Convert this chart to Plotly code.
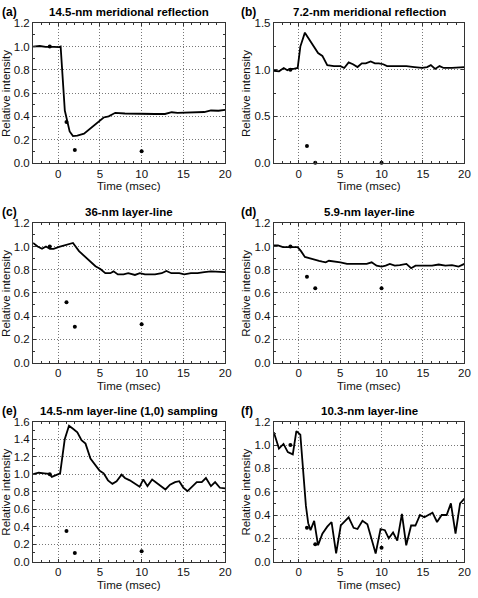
import plotly.graph_objects as go

W, H = 478, 598

# ---------------- data ----------------
titles = ["14.5-nm meridional reflection", "7.2-nm meridional reflection",
          "36-nm layer-line", "5.9-nm layer-line",
          "14.5-nm layer-line (1,0) sampling", "10.3-nm layer-line"]
labels = ["(a)", "(b)", "(c)", "(d)", "(e)", "(f)"]

a_t = [-3, -2.2, -1.5, -1.07, -0.5, 0.12, 0.3, 0.8, 1.1, 1.38, 1.78, 2.3, 3.1, 4.1, 5.45, 6.05, 6.84,
       8.0, 9.0, 10.0, 11.0, 11.6, 12.8, 13.6, 14.3, 15.1, 16.0, 16.7, 17.5, 18.3, 19.2, 20]
a_y = [1.0, 1.005, 0.998, 1.0, 0.997, 0.995, 1.0, 0.45, 0.35, 0.27, 0.23, 0.233, 0.25, 0.31, 0.39, 0.40, 0.43,
       0.424, 0.422, 0.42, 0.417, 0.42, 0.42, 0.435, 0.43, 0.433, 0.435, 0.44, 0.437, 0.45, 0.448, 0.455]

b_t = [-3, -2.37, -1.8, -1.37, -1.1, -0.6, -0.12, 0.2, 0.75, 1.27, 1.79, 2.34, 2.86, 3.45, 4.25, 5.04, 5.5,
       6.03, 6.55, 7.1, 7.62, 8.1, 8.69, 9.2, 9.68, 10.2, 10.67, 11.8, 13.0, 13.97, 14.9, 15.5, 15.95,
       16.47, 17.0, 17.5, 18.5, 20]
b_y = [0.99, 0.984, 1.02, 0.995, 1.01, 1.01, 1.02, 1.25, 1.40, 1.33, 1.26, 1.18, 1.15, 1.05, 1.04, 1.04, 1.02,
       1.08, 1.06, 1.03, 1.07, 1.07, 1.09, 1.07, 1.07, 1.06, 1.04, 1.04, 1.04, 1.03, 1.02, 1.03, 1.05,
       1.01, 1.04, 1.02, 1.02, 1.03]

c_t = [-3, -2.45, -1.93, -1.46, -0.98, -0.55, 0.12, 0.91, 1.78, 2.5, 3.1, 3.87, 4.47, 5.06, 5.65, 6.25, 6.64,
       7.15, 7.83, 8.4, 9.2, 9.78, 10.4, 11.6, 12.4, 12.96, 13.56, 14.5, 15.1, 15.9, 16.7, 17.5, 18.3, 20]
c_y = [1.03, 1.0, 0.98, 1.0, 0.98, 0.98, 0.997, 1.01, 1.03, 0.96, 0.92, 0.87, 0.83, 0.806, 0.77, 0.77, 0.786,
       0.76, 0.76, 0.77, 0.755, 0.77, 0.76, 0.76, 0.77, 0.79, 0.77, 0.77, 0.76, 0.77, 0.77, 0.78, 0.786, 0.78]

d_t = [-3, -2.5, -1.9, -1.3, -0.71, -0.12, 0.28, 0.75, 1.27, 1.87, 2.46, 2.86, 3.26, 3.65, 4.25, 5.04, 5.83,
       6.63, 7.42, 8.21, 8.81, 9.4, 10.0, 10.5, 11.0, 11.6, 12.2, 13.0, 13.57, 14.1, 14.9, 16.1, 16.9,
       17.7, 18.5, 19.3, 20]
d_y = [1.01, 1.01, 0.995, 0.995, 1.0, 0.995, 0.96, 0.91, 0.90, 0.886, 0.877, 0.87, 0.864, 0.877, 0.872, 0.864, 0.85,
       0.85, 0.845, 0.85, 0.864, 0.835, 0.827, 0.835, 0.85, 0.835, 0.84, 0.85, 0.813, 0.835, 0.835, 0.835, 0.845,
       0.835, 0.84, 0.827, 0.85]

e_t = [-3, -2.33, -1.66, -1.07, -0.75, -0.28, 0.24, 0.79, 1.3, 1.78, 2.3, 2.8, 3.28, 3.87, 4.47, 4.98, 5.45,
       5.97, 6.5, 7.0, 7.6, 8.0, 8.58, 9.17, 9.76, 10.2, 10.7, 11.26, 11.85, 12.33, 12.85, 13.4, 14.0,
       14.5, 15.0, 15.5, 16.1, 16.6, 17.2, 17.7, 18.3, 18.8, 19.37, 20]
e_y = [1.0, 1.017, 1.01, 1.005, 0.97, 0.987, 1.01, 1.40, 1.555, 1.52, 1.48, 1.39, 1.35, 1.18, 1.10, 1.04, 1.01,
       0.93, 0.89, 0.92, 0.995, 0.957, 0.93, 0.89, 0.856, 0.94, 0.864, 0.94, 0.90, 0.864, 0.826, 0.88, 0.91,
       0.92, 0.845, 0.807, 0.864, 0.91, 0.91, 0.957, 0.864, 0.91, 0.845, 0.837]

f_t = [-3, -2.38, -1.83, -1.31, -0.71, -0.28, 0.2, 0.87, 1.15, 1.43, 1.87, 2.34, 2.86, 3.45, 3.97, 4.52, 5.08,
       6.03, 6.63, 7.1, 7.7, 8.29, 9.29, 9.88, 10.4, 10.87, 11.39, 11.9, 12.46, 12.98, 13.57, 14.09, 14.64,
       15.16, 16.15, 16.7, 17.26, 17.86, 18.37, 18.93, 19.48, 20]
f_y = [1.11, 0.97, 1.01, 0.94, 0.92, 1.12, 1.09, 0.48, 0.33, 0.27, 0.35, 0.14, 0.24, 0.30, 0.34, 0.07, 0.31,
       0.38, 0.29, 0.28, 0.35, 0.32, 0.07, 0.28, 0.27, 0.20, 0.25, 0.18, 0.41, 0.14, 0.31, 0.31, 0.40,
       0.38, 0.42, 0.34, 0.40, 0.40, 0.50, 0.24, 0.50, 0.54]

dot_t = [-1, 1, 2, 10]
a_dots = [1.0, 0.35, 0.11, 0.10]
b_dots = [1.0, 0.18, 0.0, 0.0]
c_dots = [1.0, 0.52, 0.31, 0.33]
d_dots = [1.0, 0.74, 0.64, 0.64]
e_dots = [1.0, 0.35, 0.10, 0.12]
f_dots = [1.0, 0.29, 0.15, 0.12]

x_range = [-3, 20]
x_ticks = [0, 5, 10, 15, 20]
y_ranges = [[0, 1.2], [0, 1.5], [0, 1.2], [0, 1.2], [0, 1.6], [0, 1.2]]
y_dticks = [0.2, 0.5, 0.2, 0.2, 0.2, 0.2]

lines_t = [a_t, b_t, c_t, d_t, e_t, f_t]
lines_y = [a_y, b_y, c_y, d_y, e_y, f_y]
dots_y = [a_dots, b_dots, c_dots, d_dots, e_dots, f_dots]

# ---------------- layout (pixels) ----------------
col_x = [(33.5, 228.0), (277.3, 470.3)]
row_y = [(17.7, 160.0), (221.7, 364.0), (424.3, 567.0)]

FONT = "Arial, Liberation Sans, Helvetica, sans-serif"

fig = go.Figure()
annotations = []
for i in range(6):
    r, c = divmod(i, 2)
    n = i + 1
    xa = "x" if n == 1 else f"x{n}"
    ya = "y" if n == 1 else f"y{n}"
    x0, x1 = col_x[c]
    y0, y1 = row_y[r]
    fig.add_trace(go.Scatter(x=lines_t[i], y=lines_y[i], mode="lines",
                             line=dict(color="black", width=1.8),
                             xaxis=xa, yaxis=ya, showlegend=False, hoverinfo="skip"))
    fig.add_trace(go.Scatter(x=dot_t, y=dots_y[i], mode="markers",
                             marker=dict(color="black", size=4),
                             xaxis=xa, yaxis=ya, showlegend=False, cliponaxis=False))
    axcommon = dict(showline=True, linecolor="#333", linewidth=1, mirror="ticks",
                    ticks="inside", ticklen=3, tickcolor="#333", tickwidth=1,
                    showgrid=True, gridcolor="#777", griddash="1px,2px", gridwidth=1,
                    zeroline=False, ticklabeloverflow="allow",
                    tickfont=dict(family=FONT, size=11.5, color="#111"))
    fig.layout[("xaxis" if n == 1 else f"xaxis{n}")] = dict(
        domain=[x0 / W, x1 / W], anchor=ya, range=x_range, tickvals=x_ticks,
        minor=dict(ticks="inside", ticklen=2, dtick=1, tickcolor="#333", showgrid=False),
        **axcommon)
    fig.layout[("yaxis" if n == 1 else f"yaxis{n}")] = dict(
        domain=[1 - y1 / H, 1 - y0 / H], anchor=xa, range=y_ranges[i], dtick=y_dticks[i],
        tickformat=".1f",
        minor=dict(ticks="inside", ticklen=2, dtick=y_dticks[i] / 2, tickcolor="#333", showgrid=False),
        **axcommon)
    cx = (x0 + x1) / 2
    cy = (y0 + y1) / 2
    # title
    annotations.append(dict(text=f"<b>{titles[i]}</b>", x=cx / W, y=1 - (y0 - 11.5) / H,
                            xref="paper", yref="paper", showarrow=False,
                            font=dict(family=FONT, size=11.5, color="black"),
                            xanchor="center", yanchor="middle"))
    # panel label
    lx = 0 if c == 0 else 242
    annotations.append(dict(text=f"<b>{labels[i]}</b>", x=lx / W, y=1 - (y0 - 11.5) / H,
                            xref="paper", yref="paper", showarrow=False,
                            font=dict(family=FONT, size=12, color="black"),
                            xanchor="left", yanchor="middle"))
    # x axis title
    annotations.append(dict(text="Time (msec)", x=cx / W, y=1 - (y1 + 24) / H,
                            xref="paper", yref="paper", showarrow=False,
                            font=dict(family=FONT, size=11.5, color="#111"),
                            xanchor="center", yanchor="middle"))
    # y axis title
    yx = 6 if c == 0 else 249
    annotations.append(dict(text="Relative intensity", x=yx / W, y=1 - cy / H,
                            xref="paper", yref="paper", showarrow=False, textangle=-90,
                            font=dict(family=FONT, size=11.5, color="#111"),
                            xanchor="center", yanchor="middle"))

fig.update_layout(width=W, height=H, margin=dict(l=0, r=0, t=0, b=0),
                  paper_bgcolor="white", plot_bgcolor="white",
                  annotations=annotations, showlegend=False)
fig.write_html("out.html", config={"displayModeBar": False},
               post_script="document.body.style.margin='0';document.body.style.overflow='hidden';")
